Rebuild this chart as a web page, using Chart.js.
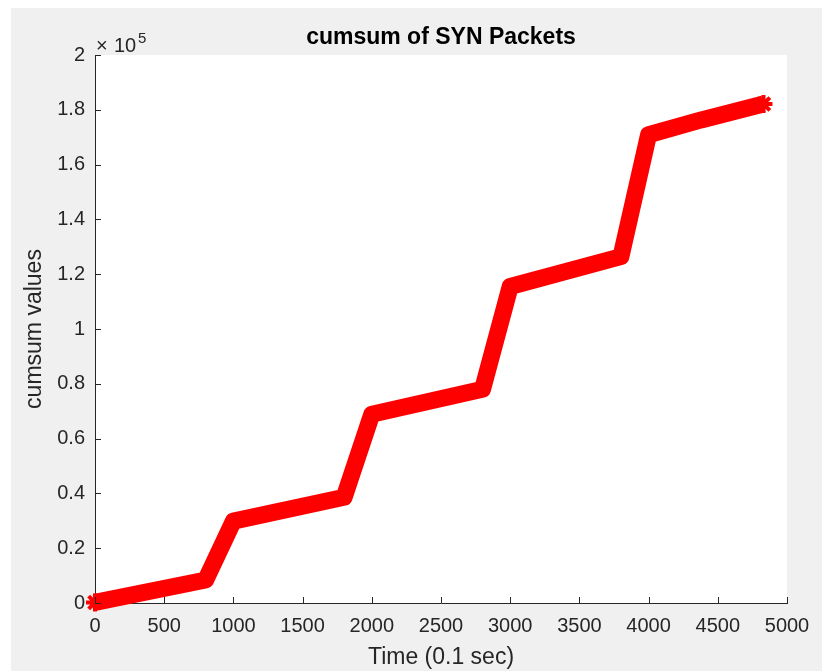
<!DOCTYPE html>
<html>
<head>
<meta charset="utf-8">
<script src="https://cdn.jsdelivr.net/npm/chart.js@4"></script>
<style>
  html, body { margin: 0; padding: 0; background: #ffffff; }
  #wrap { width: 822px; height: 671px; }
</style>
</head>
<body>
<div id="wrap"><canvas id="myChart" width="822" height="671"></canvas></div>
<script>
// values (corners of the cumsum curve)
const timeValues = [0, 800, 1000, 1800, 2000, 2800, 3000, 3800, 4000, 4380, 4830];
const cumsumValues = [200, 8400, 29900, 38600, 68900, 78000, 115500, 126400, 170900, 176300, 182100];

const xTicksStep = 500;
const yTicksStep = 20000;

const chartTitle = 'cumsum of SYN Packets';
const xLabel = 'Time (0.1 sec)';
const yLabel = 'cumsum values';

const textColor = '#262626';
const fontFamily = '"Liberation Sans", Arial, Helvetica, sans-serif';

const points = timeValues.map((t, i) => ({ x: t, y: cumsumValues[i] }));

// grey figure background + white axes box
const backgroundPlugin = {
    id: 'figureBg',
    beforeDraw(chart) {
        const { ctx, chartArea } = chart;
        ctx.save();
        ctx.fillStyle = '#ffffff';
        ctx.fillRect(0, 0, chart.width, chart.height);
        ctx.fillStyle = '#f0f0f0';
        ctx.fillRect(11, 8, chart.width - 11, chart.height - 8);
        ctx.fillStyle = '#ffffff';
        ctx.fillRect(chartArea.left, chartArea.top, chartArea.right - chartArea.left, chartArea.bottom - chartArea.top);
        ctx.restore();
    }
};

// inward tick marks, title and x10^5 exponent like matlab
const decorPlugin = {
    id: 'matlabDecor',
    afterDatasetsDraw(chart) {
        const { ctx, chartArea, scales } = chart;
        ctx.save();
        ctx.strokeStyle = textColor;
        ctx.lineWidth = 1;
        ctx.beginPath();
        scales.x.ticks.forEach(t => {
            const px = Math.round(scales.x.getPixelForValue(t.value)) + 0.5;
            ctx.moveTo(px, chartArea.bottom);
            ctx.lineTo(px, chartArea.bottom - 6);
        });
        scales.y.ticks.forEach(t => {
            const py = Math.round(scales.y.getPixelForValue(t.value)) + 0.5;
            ctx.moveTo(chartArea.left, py);
            ctx.lineTo(chartArea.left + 6, py);
        });
        ctx.stroke();

        ctx.fillStyle = '#000000';
        ctx.font = 'bold 23px ' + fontFamily;
        ctx.textAlign = 'center';
        ctx.textBaseline = 'middle';
        ctx.fillText(chartTitle, (chartArea.left + chartArea.right) / 2, 38);

        ctx.fillStyle = textColor;
        ctx.textAlign = 'left';
        ctx.textBaseline = 'alphabetic';
        ctx.font = '20px ' + fontFamily;
        ctx.fillText('\u00d7', chartArea.left + 1, 52);
        ctx.fillText('10', chartArea.left + 19, 52);
        ctx.font = '15px ' + fontFamily;
        ctx.fillText('5', chartArea.left + 43, 43);
        ctx.restore();
    }
};

const ctx = document.getElementById('myChart').getContext('2d');
new Chart(ctx, {
    type: 'line',
    data: {
        datasets: [{
            data: points,
            borderColor: '#ff0000',
            backgroundColor: '#ff0000',
            borderWidth: 17,
            borderJoinStyle: 'round',
            tension: 0,
            pointStyle: 'star',
            pointRadius: c => (c.dataIndex === 0 || c.dataIndex === timeValues.length - 1) ? 9 : 0,
            pointBorderWidth: 4,
            pointBorderColor: '#ff0000',
            clip: false
        }]
    },
    options: {
        responsive: false,
        animation: false,
        layout: { padding: { left: 0, top: 55, right: 35, bottom: 0 } },
        plugins: {
            legend: { display: false },
            tooltip: { enabled: false }
        },
        scales: {
            x: {
                type: 'linear',
                min: 0,
                max: 5000,
                afterFit: s => { s.height = 68; },
                ticks: {
                    stepSize: xTicksStep,
                    color: textColor,
                    font: { family: fontFamily, size: 20 },
                    padding: 11,
                    maxRotation: 0,
                    callback: v => String(v)
                },
                grid: { display: true, drawOnChartArea: false, drawTicks: false },
                border: { display: true, color: textColor, width: 1 },
                title: {
                    display: true,
                    text: xLabel,
                    color: textColor,
                    font: { family: fontFamily, size: 23 },
                    padding: { top: 0, bottom: 0 }
                }
            },
            y: {
                min: 0,
                max: 200000,
                afterFit: s => { s.width = 95; },
                ticks: {
                    stepSize: yTicksStep,
                    color: textColor,
                    font: { family: fontFamily, size: 20 },
                    padding: 10,
                    callback: v => String(+(v / 1e5).toFixed(1))
                },
                grid: { display: true, drawOnChartArea: false, drawTicks: false },
                border: { display: true, color: textColor, width: 1 },
                title: {
                    display: true,
                    text: yLabel,
                    color: textColor,
                    font: { family: fontFamily, size: 23 },
                    padding: { top: 21, bottom: 0 }
                }
            }
        }
    },
    plugins: [backgroundPlugin, decorPlugin]
});
</script>
</body>
</html>
